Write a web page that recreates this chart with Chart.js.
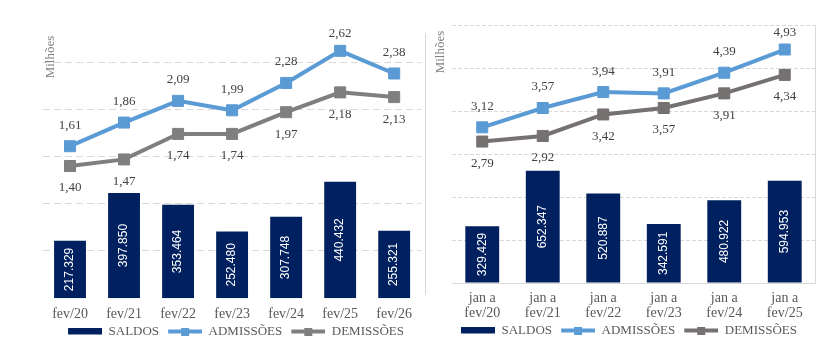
<!DOCTYPE html>
<html>
<head>
<meta charset="utf-8">
<script src="https://cdn.jsdelivr.net/npm/chart.js@4.4.1/dist/chart.umd.min.js"></script>
<style>
body { margin: 0; background: #fff; }
#wrap { position: relative; width: 835px; height: 360px; }
#esq { position: absolute; left: 0; top: 0; }
#dir { position: absolute; left: 425px; top: 0; }
#divisor { position: absolute; left: 425px; top: 33px; height: 262px; border-left: 1px solid #d9d9d9; }
</style>
</head>
<body>
<div id="wrap">
	<canvas id="esq" width="430" height="360"></canvas>
	<div id="divisor"></div>
	<canvas id="dir" width="410" height="360"></canvas>
</div>
<script>
// fevereiro de cada ano
var mesesFev = ['fev/20', 'fev/21', 'fev/22', 'fev/23', 'fev/24', 'fev/25', 'fev/26'];
var saldosFev = [217329, 397850, 353464, 252480, 307748, 440432, 255321];
var admissoesFev = [1.61, 1.86, 2.09, 1.99, 2.28, 2.62, 2.38];
var demissoesFev = [1.40, 1.47, 1.74, 1.74, 1.97, 2.18, 2.13];

// acumulado jan a fev
var mesesAcum = [['jan a', 'fev/20'], ['jan a', 'fev/21'], ['jan a', 'fev/22'], ['jan a', 'fev/23'], ['jan a', 'fev/24'], ['jan a', 'fev/25']];
var saldosAcum = [329429, 652347, 520887, 342591, 480922, 594953];
var admissoesAcum = [3.12, 3.57, 3.94, 3.91, 4.39, 4.93];
var demissoesAcum = [2.79, 2.92, 3.42, 3.57, 3.91, 4.34];

var azulEscuro = '#002060';
var azulClaro = '#5B9BD5';
var cinzaEsq = '#7F7F7F';
var cinzaDir = '#767171';

Chart.defaults.font.family = '"Liberation Serif", serif';

function milhar(v) {
	return String(v).replace(/\B(?=(\d{3})+(?!\d))/g, '.');
}
function decimal(v) {
	return v.toFixed(2).replace('.', ',');
}

function iconeBarra(cor) {
	var c = document.createElement('canvas');
	c.width = 40; c.height = 8;
	var x = c.getContext('2d');
	x.fillStyle = cor;
	x.fillRect(6, 0, 34, 7);
	return c;
}
function iconeLinha(cor) {
	var c = document.createElement('canvas');
	c.width = 40; c.height = 8;
	var x = c.getContext('2d');
	x.fillStyle = cor;
	x.fillRect(6, 2, 34, 4);
	x.fillRect(19, 0, 8, 8);
	return c;
}

var rotulos = {
	id: 'rotulos',
	afterDatasetsDraw: function(chart, args, opts) {
		var ctx = chart.ctx, area = chart.chartArea;
		ctx.save();
		ctx.textAlign = 'center';
		ctx.textBaseline = 'middle';

		// valores dentro das barras
		ctx.font = '12px "Liberation Sans"';
		ctx.fillStyle = '#ffffff';
		chart.getDatasetMeta(0).data.forEach(function(el, i) {
			ctx.save();
			ctx.translate(el.x, (el.y + el.base) / 2);
			ctx.rotate(-Math.PI / 2);
			ctx.fillText(milhar(chart.data.datasets[0].data[i]), 0, 0);
			ctx.restore();
		});

		// valores das linhas
		ctx.font = '13px "Liberation Serif"';
		ctx.fillStyle = '#404040';
		[1, 2].forEach(function(d) {
			var desloc = d === 1 ? -21 : 22;
			chart.getDatasetMeta(d).data.forEach(function(el, i) {
				var y = Math.max(el.y + desloc, area.top + 8);
				ctx.fillText(decimal(chart.data.datasets[d].data[i]), el.x, y);
			});
		});

		// titulo do eixo
		ctx.font = '13px "Liberation Serif"';
		ctx.fillStyle = '#7f7f7f';
		ctx.translate(area.left + opts.tituloX, area.top + opts.tituloY);
		ctx.rotate(-Math.PI / 2);
		ctx.fillText('Milhões', 0, 0);
		ctx.restore();
	}
};

function legenda(icones, alinhar) {
	return {
		position: 'bottom',
		align: alinhar,
		labels: {
			usePointStyle: true,
			pointStyleWidth: 40,
			padding: 3,
			color: '#595959',
			font: { size: 13 },
			generateLabels: function(chart) {
				return chart.data.datasets.map(function(ds, i) {
					return {
						text: ds.label, pointStyle: icones[i], fillStyle: 'transparent',
						strokeStyle: 'transparent', lineWidth: 0, hidden: false,
						datasetIndex: i, fontColor: '#595959'
					};
				});
			}
		}
	};
}

function series(labels, saldos, adm, dem, cinza, larg) {
	return {
		labels: labels,
		datasets: [
			{
				type: 'bar', label: 'SALDOS', data: saldos, yAxisID: 'y2',
				backgroundColor: azulEscuro, barPercentage: larg, categoryPercentage: 1, order: 3
			},
			{
				type: 'line', label: 'ADMISSÕES', data: adm, yAxisID: 'y',
				borderColor: azulClaro, backgroundColor: azulClaro, borderWidth: 4,
				pointStyle: 'rect', pointRadius: 7.8, pointBorderWidth: 1,
				pointBackgroundColor: azulClaro, pointBorderColor: azulClaro, order: 1
			},
			{
				type: 'line', label: 'DEMISSÕES', data: dem, yAxisID: 'y',
				borderColor: cinza, backgroundColor: cinza, borderWidth: 4,
				pointStyle: 'rect', pointRadius: 7.8, pointBorderWidth: 1,
				pointBackgroundColor: cinza, pointBorderColor: cinza, order: 2
			}
		]
	};
}

new Chart(document.getElementById('esq'), {
	type: 'bar',
	data: series(mesesFev, saldosFev, admissoesFev, demissoesFev, cinzaEsq, 0.59),
	options: {
		responsive: false,
		animation: false,
		layout: { padding: { left: 43, right: 7, top: 26, bottom: 12 } },
		plugins: {
			legend: legenda([iconeBarra(azulEscuro), iconeLinha(azulClaro), iconeLinha(cinzaEsq)], 'center'),
			tooltip: { enabled: false },
			rotulos: { tituloX: 8, tituloY: 31 }
		},
		scales: {
			x: {
				grid: { display: false, drawTicks: false },
				border: { display: false },
				ticks: { color: '#595959', font: { size: 14 }, padding: 8, maxRotation: 0 },
				afterFit: function(s) { s.height -= 9; }
			},
			y: {
				position: 'left', min: 0, max: 2.883,
				ticks: { display: false, stepSize: 0.5 },
				grid: {
					drawTicks: false,
					color: function(c) {
						var v = c.tick ? c.tick.value : 0;
						return (v <= 0 || v > 2.51) ? 'rgba(0,0,0,0)' : '#d9d9d9';
					}
				},
				border: { display: false, dash: [7, 4] }
			},
			y2: { display: false, position: 'right', min: 0, max: 1028800 }
		}
	},
	plugins: [rotulos]
});

new Chart(document.getElementById('dir'), {
	type: 'bar',
	data: series(mesesAcum, saldosAcum, admissoesAcum, demissoesAcum, cinzaDir, 0.56),
	options: {
		responsive: false,
		animation: false,
		layout: { padding: { left: 27, right: 20, top: 25, bottom: 13 } },
		plugins: {
			legend: legenda([iconeBarra(azulEscuro), iconeLinha(azulClaro), iconeLinha(cinzaDir)], 'start'),
			tooltip: { enabled: false },
			rotulos: { tituloX: -11, tituloY: 27 }
		},
		scales: {
			x: {
				grid: { display: false, drawTicks: false },
				border: { display: true, color: '#d9d9d9' },
				ticks: { color: '#595959', font: { size: 14, lineHeight: 1.07 }, padding: 8, maxRotation: 0 },
				afterFit: function(s) { s.height -= 8; }
			},
			y: { display: false, min: -0.5, max: 5.5 },
			y2: {
				position: 'right', min: 0, max: 1500000,
				ticks: { display: false, stepSize: 250000 },
				grid: { drawTicks: false, color: '#d9d9d9' },
				border: { display: true, color: '#d9d9d9', dash: [4, 2] }
			}
		}
	},
	plugins: [rotulos]
});
</script>
</body>
</html>
